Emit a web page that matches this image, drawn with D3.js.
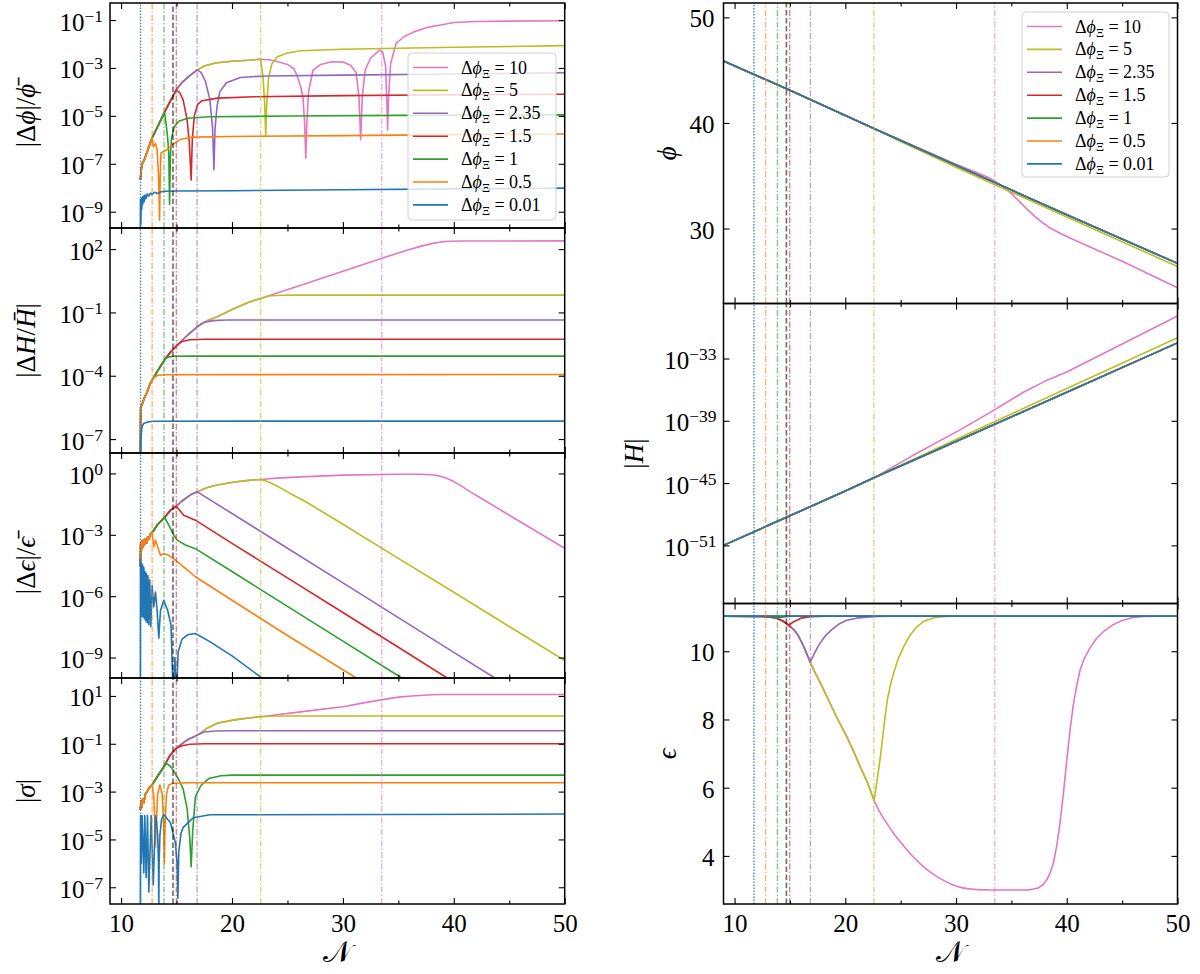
<!DOCTYPE html>
<html lang="en">
<head>
<meta charset="UTF-8">
<title>Perturbation runs</title>
<script src="https://cdnjs.cloudflare.com/ajax/libs/d3/7.8.5/d3.min.js"></script>
<style>
  body { margin: 0; background: #fff; }
  svg { font-family: "Liberation Serif", "DejaVu Serif", serif; }
</style>
</head>
<body>
<svg width="1200" height="974"></svg>
<script>
// runs, in legend (and drawing) order
const labels = ["10", "5", "2.35", "1.5", "1", "0.5", "0.01"];
const colors = ["#e377c2", "#bcbd22", "#9467bd", "#d62728", "#2ca02c", "#ff7f0e", "#1f77b4"];
// N where each run is marked with a vertical line
const markN = [33.5, 22.58, 16.85, 14.98, 13.87, 12.8, 11.75];
const grayN = 14.68;
const xTicks = [10, 20, 30, 40, 50];
const xMinor = [15, 25, 35, 45];

// a run follows the shared curve up to N = upTo, then its own tail
function branch(env, upTo, tail) { return env.filter(d => d[0] <= upTo).concat(tail); }

// |dphi| / phibar
const dphiEnv = [[11.74, 2.1e-8], [11.8, 5e-8], [11.9, 1e-7], [12.1, 1.5e-7], [12.35, 3.2e-7], [12.65, 8e-7], [12.8, 1.2e-6],
  [13.3, 3.6e-6], [13.91, 1.4e-5], [14.4, 3.8e-5], [14.97, 1.2e-4], [15.5, 2.5e-4], [16.2, 4.8e-4], [16.87, 8.3e-4],
  [17.5, 1.2e-3], [18.5, 1.6e-3], [20, 1.9e-3], [21.5, 2.1e-3], [22.58, 2.3e-3]];
const dphi = [
  branch(dphiEnv, 22.58, [[23.3, 2.2e-3], [24, 1.9e-3], [25, 1.4e-3], [25.6, 9e-4], [25.9, 4.4e-4], [26.2, 1.6e-4], [26.4, 6e-5],
    [26.55, 5e-6], [26.65, 1.7e-7], [26.75, 5e-6], [26.9, 1e-4], [27.3, 8e-4], [28, 1.4e-3], [29, 1.8e-3], [30, 1.75e-3],
    [30.7, 1.3e-3], [31.2, 6.3e-4], [31.45, 6e-5], [31.6, 1e-6], [31.75, 6e-5], [32, 8e-4], [32.5, 2.6e-3], [33.3, 5.5e-3],
    [33.6, 4.5e-3], [33.85, 1.2e-3], [33.95, 6e-5], [34.03, 2.6e-6], [34.12, 6e-5], [34.3, 1.5e-3], [34.8, 1.07e-2],
    [35.5, 2e-2], [36.4, 3.2e-2], [37.5, 4.8e-2], [38.8, 6.2e-2], [40, 7.9e-2], [42, 8.7e-2], [45, 9e-2], [50, 9.3e-2]]),
  branch(dphiEnv, 22.58, [[22.8, 4e-4], [22.95, 3e-5], [23.04, 1.4e-6], [23.13, 3e-5], [23.3, 4e-4], [23.6, 1.5e-3],
    [24.1, 2.9e-3], [25, 4.2e-3], [26.2, 5.2e-3], [30, 6e-3], [35, 6.6e-3], [40, 7.3e-3], [50, 8.5e-3]]),
  branch(dphiEnv, 16.87, [[17.2, 6.5e-4], [17.6, 2.8e-4], [18.0, 5e-5], [18.25, 3e-6], [18.37, 5.6e-8], [18.47, 3e-6],
    [18.65, 2.5e-5], [18.9, 1e-4], [19.5, 2.4e-4], [20.75, 4e-4], [23, 4.6e-4], [30, 5e-4], [40, 5.6e-4], [50, 6.3e-4]]),
  branch(dphiEnv, 14.97, [[15.3, 9e-5], [15.6, 4.5e-5], [15.95, 7e-6], [16.15, 8e-7], [16.32, 2.1e-8], [16.42, 1e-6],
    [16.6, 1e-5], [16.9, 3e-5], [17.3, 4.3e-5], [18.7, 5.5e-5], [22, 6.3e-5], [30, 7e-5], [40, 7.6e-5], [50, 8e-5]]),
  branch(dphiEnv, 13.91, [[14.05, 5e-6], [14.2, 1.2e-6], [14.3, 2.5e-7], [14.37, 2e-9], [14.45, 2.5e-7], [14.55, 1.2e-6],
    [14.8, 3.5e-6], [15.2, 6e-6], [16, 7.9e-6], [18, 9.2e-6], [25, 9.8e-6], [35, 1.05e-5], [50, 1.1e-5]]),
  branch(dphiEnv, 12.8, [[12.93, 5.2e-7], [13.1, 7e-7], [13.25, 4e-7], [13.38, 3e-8], [13.47, 4.4e-10], [13.53, 3e-8],
    [13.6, 2.9e-7], [13.9, 3.3e-7], [14.3, 4.5e-7], [14.75, 6.8e-7], [15.35, 1.05e-6], [16.5, 1.3e-6], [20, 1.38e-6],
    [30, 1.5e-6], [40, 1.65e-6], [50, 1.74e-6]]),
  [[11.74, 1e-10], [11.75, 3.2e-9], [11.78, 3e-10], [11.82, 3.5e-9], [11.86, 1.2e-9], [11.9, 4e-9], [11.95, 2e-9],
    [12.0, 4.5e-9], [12.08, 2.6e-9], [12.15, 5e-9], [12.25, 3.5e-9], [12.35, 5.5e-9], [12.5, 4.5e-9], [12.65, 6e-9],
    [12.8, 5.2e-9], [13.0, 6.5e-9], [13.3, 5.8e-9], [13.6, 6.8e-9], [14.0, 7.1e-9], [15, 7.3e-9], [20, 7.5e-9],
    [30, 8.2e-9], [40, 9e-9], [50, 9.6e-9]]
];

// |dH / Hbar|
const dHEnv = [[11.74, 1e-8], [11.77, 3e-6], [11.9, 4.5e-6], [12.1, 9e-6], [12.35, 1.7e-5], [12.6, 4e-5], [12.8, 6.2e-5],
  [13.4, 2.1e-4], [14.0, 6.6e-4], [14.5, 1.4e-3], [15.06, 2.8e-3], [16.0, 8.5e-3], [16.87, 2.1e-2], [17.8, 4.2e-2],
  [18.67, 6.2e-2], [20.2, 0.155], [21.5, 0.3], [22.58, 0.46]];
const dH = [
  branch(dHEnv, 22.58, [[26.2, 1.95], [30, 8.9], [34, 44.7], [36, 96], [37, 135], [38, 182], [38.8, 219], [39.6, 234],
    [41, 243], [50, 245]]),
  branch(dHEnv, 22.58, [[23.3, 0.6], [24.5, 0.65], [26, 0.66], [50, 0.66]]),
  branch(dHEnv, 16.87, [[17.4, 3.3e-2], [18.3, 4.1e-2], [19.5, 4.4e-2], [50, 4.4e-2]]),
  branch(dHEnv, 15.06, [[15.5, 4.2e-3], [16.2, 5.1e-3], [17.5, 5.4e-3], [50, 5.4e-3]]),
  branch(dHEnv, 14.0, [[14.3, 7.8e-4], [14.8, 8.4e-4], [16, 8.5e-4], [50, 8.5e-4]]),
  branch(dHEnv, 12.8, [[13.0, 8.5e-5], [13.3, 1.05e-4], [14, 1.12e-4], [50, 1.15e-4]]),
  [[11.74, 1e-8], [11.8, 1.5e-7], [11.9, 4e-7], [12.04, 5.5e-7], [12.4, 6.5e-7], [13, 7e-7], [20, 7.1e-7], [50, 7.1e-7]]
];

// |deps| / epsbar
const dEpsEnv = [[11.74, 2.8e-5], [11.77, 3.8e-4], [11.82, 1.6e-4], [11.88, 5e-4], [11.95, 2.5e-4], [12.02, 5.6e-4],
  [12.1, 3.2e-4], [12.2, 6.3e-4], [12.3, 4e-4], [12.4, 7.9e-4], [12.5, 6e-4], [12.65, 1.1e-3], [12.8, 1.3e-3],
  [13.3, 3.2e-3], [13.93, 7.1e-3], [14.4, 1.5e-2], [14.97, 2.5e-2], [15.5, 4.5e-2], [16.0, 7.1e-2], [16.4, 0.1],
  [16.87, 0.126], [17.7, 0.2], [18.67, 0.27], [20.2, 0.38], [21.5, 0.46], [22.58, 0.51]];
const dEps = [
  branch(dEpsEnv, 22.58, [[24, 0.59], [26.2, 0.68], [30, 0.83], [35, 0.91], [37, 0.91], [38, 0.87], [38.7, 0.76],
    [39.3, 0.6], [40, 0.4], [40.7, 0.24], [41.5, 0.126], [42.5, 6e-2], [45, 9.1e-3], [50, 2.2e-4]]),
  branch(dEpsEnv, 22.58, [[23, 0.44], [23.5, 0.34], [24, 0.25], [24.5, 0.18], [25, 0.126], [25.5, 8.9e-2], [26.2, 5.6e-2],
    [27, 3.2e-2], [28, 1.5e-2], [30, 3.3e-3], [35, 7.1e-5], [40, 1.55e-6], [45, 3.3e-8], [50, 7.2e-10]]),
  branch(dEpsEnv, 16.87, [[20, 1.1e-2], [25, 2.2e-4], [30, 4.5e-6], [35, 8.9e-8], [40, 1.8e-9], [43.7, 1e-10], [44, 8e-11]]),
  branch(dEpsEnv, 14.97, [[15.65, 9.1e-3], [16.7, 5.2e-3], [20, 3.8e-4], [25, 7.9e-6], [30, 1.6e-7], [35, 3.2e-9],
    [39.4, 1e-10], [40, 6e-11]]),
  branch(dEpsEnv, 13.93, [[14.3, 3e-3], [14.76, 9.5e-4], [15.06, 5.5e-4], [15.8, 3.2e-4], [16.7, 2.1e-4], [20, 1.6e-5],
    [25, 3.2e-7], [30, 6.3e-9], [35.3, 1e-10], [36, 6e-11]]),
  branch(dEpsEnv, 12.8, [[12.95, 2.6e-4], [13.1, 5.5e-4], [13.55, 1e-4], [13.85, 1.2e-4], [14.3, 1e-4], [14.9, 5.8e-5],
    [15.8, 2.3e-5], [16.7, 8.9e-6], [20, 6.3e-7], [25, 1.2e-8], [31.2, 1e-10], [32, 5e-11]]),
  [[11.74, 1e-11], [11.75, 6.3e-5], [11.8, 1.6e-7], [11.85, 4e-5], [11.9, 1e-7], [11.95, 3.2e-5], [12.0, 1e-7],
    [12.05, 2.5e-5], [12.1, 8e-8], [12.15, 1.6e-5], [12.22, 6.3e-8], [12.28, 1.3e-5], [12.35, 5e-8], [12.42, 1e-5],
    [12.5, 4e-8], [12.58, 6.3e-6], [12.68, 3.2e-8], [12.8, 3.2e-6], [12.95, 3e-7], [13.1, 1.6e-6], [13.25, 2e-7],
    [13.4, 8.9e-9], [13.55, 2e-7], [13.85, 6.3e-7], [14.2, 2e-7], [14.5, 4e-8], [14.7, 1e-11], [14.85, 1e-9],
    [14.97, 1e-11], [15.15, 2e-9], [15.5, 8e-9], [16, 1.3e-8], [16.7, 1.5e-8], [18, 6e-9], [20, 1.2e-9], [22.7, 1e-10],
    [23, 8e-11]]
];

// |sigma|
const sigEnv = [[11.74, 1.7e-4], [11.8, 4e-4], [11.85, 2.2e-4], [11.95, 5e-4], [12.05, 3.5e-4], [12.2, 8e-4],
  [12.35, 1e-3], [12.55, 1.5e-3], [12.8, 1.9e-3], [13.3, 4.5e-3], [13.8, 1e-2], [14.4, 3.2e-2], [14.97, 6.5e-2],
  [15.9, 0.14], [16.87, 0.23], [17.8, 0.46], [18.67, 0.72], [20.2, 1.0], [21.5, 1.2], [22.58, 1.35]];
const sigma = [
  branch(sigEnv, 22.58, [[26, 2.1], [28, 2.75], [30, 3.55], [32, 5.25], [33.7, 7.2], [35, 8.9], [36.5, 10.2], [38, 11.2],
    [39, 11.5], [50, 11.5]]),
  branch(sigEnv, 22.58, [[23.5, 1.42], [25, 1.45], [50, 1.45]]),
  branch(sigEnv, 16.87, [[17.5, 0.31], [18.5, 0.34], [20, 0.35], [50, 0.35]]),
  branch(sigEnv, 14.97, [[15.5, 8.3e-2], [16.2, 9.5e-2], [17.5, 0.1], [50, 0.1]]),
  branch(sigEnv, 13.8, [[14.07, 1.5e-2], [14.4, 1.2e-2], [14.7, 7.9e-3], [15.2, 3.2e-3], [15.6, 1.26e-3], [15.95, 2e-4],
    [16.2, 1e-5], [16.32, 7.2e-7], [16.45, 2e-5], [16.7, 6.2e-4], [17.2, 1.8e-3], [17.9, 3.5e-3], [19, 4.6e-3],
    [20, 4.9e-3], [50, 4.9e-3]]),
  branch(sigEnv, 12.8, [[12.95, 6e-4], [13.05, 4e-5], [13.1, 5e-6], [13.17, 4e-5], [13.3, 8e-4], [13.5, 1.9e-3],
    [13.7, 8e-4], [13.83, 5e-5], [13.9, 1e-6], [13.97, 5e-5], [14.1, 8e-4], [14.3, 1.9e-3], [14.7, 2.25e-3],
    [16, 2.34e-3], [50, 2.34e-3]]),
  [[11.74, 1e-8], [11.76, 1e-4], [11.82, 1e-6], [11.9, 1e-4], [12.05, 4e-7], [12.14, 1e-4], [12.26, 2.5e-7],
    [12.38, 1e-4], [12.5, 6.3e-8], [12.71, 1e-4], [12.9, 1.26e-7], [13.1, 1e-4], [13.2, 6e-5], [13.3, 1.5e-5],
    [13.37, 1e-6], [13.4, 1e-8], [13.43, 1e-6], [13.5, 1.5e-5], [13.65, 7e-5], [13.85, 1.1e-4], [14.45, 5e-5],
    [14.9, 7e-6], [15.05, 1e-6], [15.12, 3.5e-8], [15.2, 3e-6], [15.4, 1.8e-5], [15.6, 3.2e-5], [16.5, 8e-5],
    [18, 1.07e-4], [50, 1.15e-4]]
];

// phi
const phiLine = [[9, 45.86], [15, 43.1], [22.58, 39.48], [30, 36.0], [40, 31.3], [50, 26.7]];
const phi = [
  branch(phiLine, 22.58, [[30, 36.1], [33, 34.8], [33.7, 34.35], [34.3, 33.9], [35, 33.3], [35.7, 32.6], [36.4, 31.85],
    [37.1, 31.15], [37.8, 30.55], [38.5, 30.05], [39.4, 29.55], [40.5, 29.0], [42, 28.3], [45, 26.9], [50, 24.4]]),
  branch(phiLine, 22.58, [[25, 38.25], [30, 35.8], [40, 31.1], [50, 26.4]]),
  phiLine, phiLine, phiLine, phiLine, phiLine
];

// |H|
const hLine = [[9, 1e-51], [20, 1.7e-46], [22.58, 3.2e-45], [30, 1e-41], [40, 5.6e-37], [50, 3.2e-32]];
const hubble = [
  branch(hLine, 22.58, [[26, 4e-43], [30.4, 1.4e-40], [33.4, 1e-38], [36, 5e-37], [38, 6.3e-36], [40, 5e-35],
    [45, 2.5e-32], [50, 1.26e-29]]),
  branch(hLine, 22.58, [[30, 1.6e-41], [40, 1.3e-36], [50, 1e-31]]),
  hLine, hLine, hLine, hLine, hLine
];

// eps
const epsEnv = [[9, 11.03], [12.5, 11.02], [13.3, 11.0], [13.8, 10.97], [14.4, 10.88], [14.9, 10.76], [15.3, 10.65],
  [15.68, 10.5], [16.0, 10.3], [16.3, 10.1], [16.83, 9.68], [17.3, 9.35], [17.86, 9.0], [18.8, 8.35], [19.4, 7.95],
  [20.05, 7.55], [20.7, 7.1], [21.3, 6.65], [22.0, 6.15], [22.6, 5.62]];
const eps = [
  branch(epsEnv, 22.6, [[23.0, 5.35], [23.5, 5.08], [24.0, 4.83], [24.5, 4.6], [25.0, 4.4], [25.5, 4.2], [26.0, 4.02],
    [26.5, 3.85], [27.0, 3.7], [27.5, 3.57], [28.0, 3.45], [28.5, 3.35], [29.0, 3.26], [29.5, 3.18], [30, 3.12],
    [30.5, 3.07], [31, 3.04], [32, 3.01], [33, 3.0], [36.4, 3.0], [36.9, 3.02], [37.4, 3.06], [37.8, 3.14],
    [38.2, 3.3], [38.5, 3.5], [38.8, 3.8], [39.1, 4.3], [39.4, 5.0], [39.7, 5.85], [40.0, 6.8], [40.3, 7.7],
    [40.6, 8.45], [40.9, 9.0], [41.2, 9.45], [41.6, 9.8], [42.1, 10.1], [42.7, 10.38], [43.4, 10.6], [44.2, 10.78],
    [45.0, 10.9], [45.9, 10.98], [46.9, 11.02], [48, 11.03], [50, 11.03]]),
  branch(epsEnv, 22.6, [[22.8, 6.05], [23.0, 6.5], [23.2, 7.0], [23.4, 7.55], [23.6, 8.1], [23.8, 8.58], [24.1, 9.05],
    [24.4, 9.4], [24.8, 9.8], [25.3, 10.15], [25.8, 10.45], [26.4, 10.7], [27.1, 10.88], [28, 10.98], [29, 11.02],
    [30, 11.03], [50, 11.03]]),
  branch(epsEnv, 16.83, [[17.0, 9.8], [17.2, 9.93], [17.55, 10.15], [17.9, 10.32], [18.2, 10.45], [18.8, 10.64],
    [19.4, 10.79], [20.05, 10.9], [21, 10.97], [21.9, 11.0], [23, 11.02], [24, 11.03], [50, 11.03]]),
  branch(epsEnv, 14.9, [[15.3, 10.86], [16, 10.97], [16.9, 11.01], [18.2, 11.03], [50, 11.03]]),
  [[9, 11.03], [13.3, 11.02], [14.0, 10.98], [14.8, 11.02], [16, 11.03], [50, 11.03]],
  [[9, 11.03], [50, 11.03]],
  [[9, 11.03], [50, 11.03]]
];

const svg = d3.select("svg");
const xL = d3.scaleLinear().domain([9, 50]).range([110, 564.7]);
const xR = d3.scaleLinear().domain([9, 50]).range([723.5, 1177.5]);

const panels = [
  { x: xL, y: d3.scaleLog().domain([10 ** -9.68, 10 ** -0.29]), top: 3, bottom: 228, log: true,
    ticks: [1e-9, 1e-7, 1e-5, 1e-3, 1e-1], data: dphi, labelX: 35, legend: [408, 53, 148, 167],
    label: [["|Δ", 0], ["ϕ", 1], ["|/", 0], ["ϕ̄", 1]] },
  { x: xL, y: d3.scaleLog().domain([10 ** -7.66, 1e3]), top: 228, bottom: 453, log: true,
    ticks: [1e-7, 1e-4, 1e-1, 1e2], data: dH, labelX: 35,
    label: [["|Δ", 0], ["H", 1], ["/", 0], ["H̄", 1], ["|", 0]] },
  { x: xL, y: d3.scaleLog().domain([1e-10, 10]), top: 453, bottom: 678, log: true,
    ticks: [1e-9, 1e-6, 1e-3, 1], data: dEps, labelX: 35,
    label: [["|Δ", 0], ["ϵ", 1], ["|/", 0], ["ϵ̄", 1]] },
  { x: xL, y: d3.scaleLog().domain([10 ** -7.7, 10 ** 1.75]), top: 678, bottom: 904, log: true,
    ticks: [1e-7, 1e-5, 1e-3, 1e-1, 10], data: sigma, labelX: 35, xLabels: true,
    label: [["|", 0], ["σ", 1], ["|", 0]] },
  { x: xR, y: d3.scaleLinear().domain([22.9, 51.36]), top: 3, bottom: 303.5,
    ticks: [30, 40, 50], data: phi, labelX: 676, legend: [1022, 12, 147, 165],
    label: [["ϕ", 1]] },
  { x: xR, y: d3.scaleLog().domain([10 ** -56.6, 10 ** -27.7]), top: 303.5, bottom: 603.5, log: true,
    ticks: [1e-51, 1e-45, 1e-39, 1e-33], data: hubble, labelX: 643,
    label: [["|", 0], ["H", 1], ["|", 0]] },
  { x: xR, y: d3.scaleLinear().domain([2.59, 11.4]), top: 603.5, bottom: 904,
    ticks: [4, 6, 8, 10], data: eps, labelX: 676, xLabels: true,
    label: [["ϵ", 1]] }
];

function styleAxis(g) {
  g.select(".domain").remove();
  g.attr("font-family", null).attr("font-size", null);
  g.selectAll("line").attr("stroke", "#000").attr("stroke-width", 1.1);
  g.selectAll("text").attr("fill", "#000").style("font-size", "25px");
}

panels.forEach((p, k) => {
  const [x0, x1] = p.x.range();
  const y = p.y.range([p.bottom, p.top]);
  const g = svg.append("g");

  g.append("clipPath").attr("id", "clip" + k).append("rect")
    .attr("x", x0).attr("y", p.top).attr("width", x1 - x0).attr("height", p.bottom - p.top);
  const plot = g.append("g").attr("clip-path", `url(#clip${k})`);

  const line = d3.line().x(d => p.x(d[0])).y(d => y(d[1]));
  plot.selectAll("path.run").data(p.data).join("path")
    .attr("class", "run")
    .attr("d", line)
    .attr("fill", "none")
    .attr("stroke", (d, i) => colors[i])
    .attr("stroke-width", 1.6)
    .attr("stroke-linejoin", "round");

  // vertical markers
  markN.forEach((n, i) => {
    const blue = i === 6;
    plot.append("line")
      .attr("x1", p.x(n)).attr("x2", p.x(n)).attr("y1", p.bottom).attr("y2", p.top)
      .attr("stroke", colors[i]).attr("stroke-width", 1.4)
      .attr("stroke-dasharray", blue ? "1.4,1.6" : "6,2,1.5,2")
      .attr("opacity", blue ? 0.85 : 0.58);
  });
  plot.append("line")
    .attr("x1", p.x(grayN)).attr("x2", p.x(grayN)).attr("y1", p.bottom).attr("y2", p.top)
    .attr("stroke", "#000").attr("stroke-width", 1.7).attr("stroke-dasharray", "5.5,2.5").attr("opacity", 0.55);

  // ticks, all pointing in
  const fmtLog = v => {
    const e = Math.round(Math.log10(v));
    return e < 0 ? "−" + (-e) : String(e);
  };
  const yl = g.append("g").attr("transform", `translate(${x0},0)`)
    .call(d3.axisLeft(y).tickValues(p.ticks).tickSize(-6).tickPadding(p.log ? 7 : 9)).call(styleAxis);
  yl.selectAll("text").each(function(d) {
    const t = d3.select(this).attr("dy", p.log ? 10 : 9.5).text(null);
    if (p.log) {
      t.append("tspan").text("10");
      t.append("tspan").attr("dy", -9).style("font-size", "17.5px").text(fmtLog(d));
    } else {
      t.text(d3.format("d")(d));
    }
  });
  g.append("g").attr("transform", `translate(${x1},0)`)
    .call(d3.axisRight(y).tickValues(p.ticks).tickSize(-6).tickFormat("")).call(styleAxis);

  g.append("g").attr("transform", `translate(0,${p.bottom})`)
    .call(d3.axisBottom(p.x).tickValues(xTicks).tickSize(-6).tickPadding(10)
      .tickFormat(p.xLabels ? d3.format("d") : "")).call(styleAxis);
  g.append("g").attr("transform", `translate(0,${p.bottom})`)
    .call(d3.axisBottom(p.x).tickValues(xMinor).tickSize(-3.5).tickFormat("")).call(styleAxis);
  g.append("g").attr("transform", `translate(0,${p.top})`)
    .call(d3.axisTop(p.x).tickValues(xTicks).tickSize(-6).tickFormat("")).call(styleAxis);
  g.append("g").attr("transform", `translate(0,${p.top})`)
    .call(d3.axisTop(p.x).tickValues(xMinor).tickSize(-3.5).tickFormat("")).call(styleAxis);

  g.append("rect")
    .attr("x", x0).attr("y", p.top).attr("width", x1 - x0).attr("height", p.bottom - p.top)
    .attr("fill", "none").attr("stroke", "#000").attr("stroke-width", 1.5);

  // y label
  const cy = (p.top + p.bottom) / 2;
  const lab = g.append("text")
    .attr("transform", `translate(${p.labelX},${cy}) rotate(-90)`)
    .attr("text-anchor", "middle")
    .style("font-size", "27px");
  p.label.forEach(([s, it]) => lab.append("tspan").style("font-style", it ? "italic" : "normal").text(s));

  if (p.xLabels) {
    g.append("text")
      .attr("x", (x0 + x1) / 2).attr("y", 962)
      .attr("text-anchor", "middle")
      .style("font-size", "30px")
      .text("𝒩");
  }

  if (p.legend) {
    const [lx, ly, lw, lh] = p.legend;
    const lg = g.append("g");
    lg.append("rect").attr("x", lx).attr("y", ly).attr("width", lw).attr("height", lh).attr("rx", 4)
      .attr("fill", "#fff").attr("fill-opacity", 0.8).attr("stroke", "#d0d0d0").attr("stroke-width", 1);
    const row = d3.scaleLinear().domain([0, 1]).range([ly + 14.5, ly + 14.5 + 22.9]);
    labels.forEach((lab, i) => {
      const ry = row(i);
      lg.append("line").attr("x1", lx + 5).attr("x2", lx + 40).attr("y1", ry).attr("y2", ry)
        .attr("stroke", colors[i]).attr("stroke-width", 1.6);
      const t = lg.append("text").attr("x", lx + 53).attr("y", ry + 6).style("font-size", "18px");
      t.append("tspan").text("Δ");
      t.append("tspan").style("font-style", "italic").text("ϕ");
      t.append("tspan").attr("dy", 4).style("font-size", "12.5px").text("Ξ");
      t.append("tspan").attr("dy", -4).text(" = " + lab);
    });
  }
});
</script>
</body>
</html>
